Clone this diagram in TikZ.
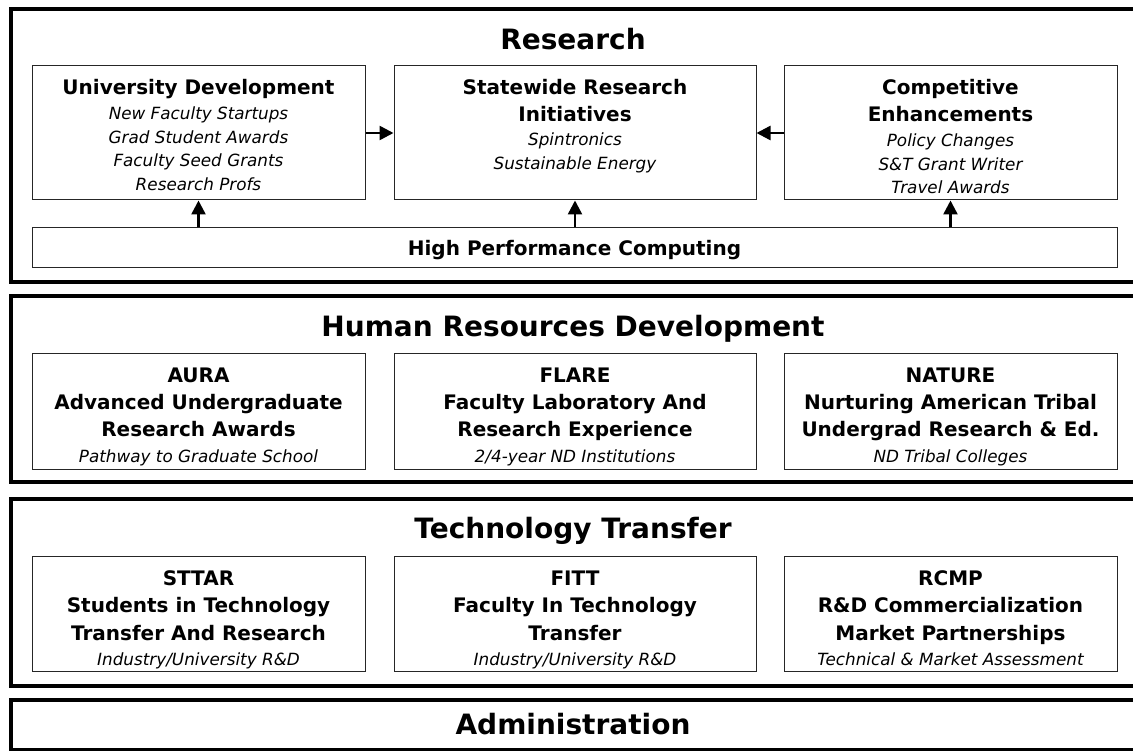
\documentclass[tikz,border=0pt]{standalone}
\usepackage{fontspec}
\setmainfont{DejaVu Sans}
\usetikzlibrary{arrows.meta}
\tikzset{
  obox/.style={draw=black, line width=4pt, minimum width=1139pt, inner sep=0pt},
  ibox/.style={draw=black!85, line width=1pt, inner sep=0pt},
  ttl/.style={font=\fontsize{28}{28}\selectfont\bfseries, anchor=base, inner sep=0pt},
  boldline/.style={font=\fontsize{20}{20}\selectfont\bfseries, anchor=base, inner sep=0pt},
  itline/.style={font=\fontsize{16.8}{16.8}\selectfont\itshape, anchor=base, inner sep=0pt},
  arr/.style={line width=2.5pt, -{Triangle[length=14pt,width=14pt]}},
}
\begin{document}
\begin{tikzpicture}[x=1pt,y=-1pt]
\clip (0,0) rectangle (1133,751);
% outer section boxes
\node[obox, minimum height=273pt] (research) at (580.5,145.5) {};
\node[obox, minimum height=186pt] (hrd) at (580.5,389) {};
\node[obox, minimum height=187pt] (tt) at (580.5,592.5) {};
\node[obox, minimum height=50pt] (admin) at (580.5,725) {};
% titles
\node[ttl] (t1) at (573,50) {Research};
\node[ttl] (t2) at (573,337) {Human Resources Development};
\node[ttl] (t3) at (573,538) {Technology Transfer};
\node[ttl] (t4) at (573,734) {Administration};
% research boxes
\node[ibox, minimum width=333pt, minimum height=134pt] (ud) at (198.5,133) {};
\node[ibox, minimum width=362pt, minimum height=134pt] (sri) at (575,133) {};
\node[ibox, minimum width=333pt, minimum height=134pt] (ce) at (950.5,133) {};
\node[ibox, minimum width=1085pt, minimum height=40pt] (hpc) at (574.5,248) {};
\node[boldline] (ud1) at (198.5,95) {University Development};
\node[itline] (ud2) at (198.5,119.5) {New Faculty Startups};
\node[itline] (ud3) at (198.5,143.3) {Grad Student Awards};
\node[itline] (ud4) at (198.5,167) {Faculty Seed Grants};
\node[itline] (ud5) at (198.5,190.7) {Research Profs};
\node[boldline] (sri1) at (575,95) {Statewide Research};
\node[boldline] (sri2) at (575,122) {Initiatives};
\node[itline] (sri3) at (575,146) {Spintronics};
\node[itline] (sri4) at (575,170) {Sustainable Energy};
\node[boldline] (ce1) at (950.5,95) {Competitive};
\node[boldline] (ce2) at (950.5,122) {Enhancements};
\node[itline] (ce3) at (950.5,146.5) {Policy Changes};
\node[itline] (ce4) at (950.5,170.5) {S\&T Grant Writer};
\node[itline] (ce5) at (950.5,194) {Travel Awards};
\node[boldline] (hpc1) at (574.5,256) {High Performance Computing};
% arrows
\draw[arr] (ud.east) -- (sri.west);
\draw[arr] (ce.west) -- (sri.east);
\draw[arr] (hpc.north -| ud.south) -- (ud.south);
\draw[arr] (hpc.north -| sri.south) -- (sri.south);
\draw[arr] (hpc.north -| ce.south) -- (ce.south);
% HRD boxes
\node[ibox, minimum width=333pt, minimum height=115pt] (aura) at (198.5,411.5) {};
\node[ibox, minimum width=362pt, minimum height=115pt] (flare) at (575,411.5) {};
\node[ibox, minimum width=333pt, minimum height=115pt] (nature) at (950.5,411.5) {};
\node[boldline] (aura1) at (198.5,382.5) {AURA};
\node[boldline] (aura2) at (198.5,409.5) {Advanced Undergraduate};
\node[boldline] (aura3) at (198.5,436.5) {Research Awards};
\node[itline] (aura4) at (198.5,462.5) {Pathway to Graduate School};
\node[boldline] (flare1) at (575,382.5) {FLARE};
\node[boldline] (flare2) at (575,409.5) {Faculty Laboratory And};
\node[boldline] (flare3) at (575,436.5) {Research Experience};
\node[itline] (flare4) at (575,462.5) {2/4-year ND Institutions};
\node[boldline] (nat1) at (950.5,382.5) {NATURE};
\node[boldline] (nat2) at (950.5,409.5) {Nurturing American Tribal};
\node[boldline] (nat3) at (950.5,436.5) {Undergrad Research \& Ed.};
\node[itline] (nat4) at (950.5,462.5) {ND Tribal Colleges};
% TT boxes
\node[ibox, minimum width=333pt, minimum height=115pt] (sttar) at (198.5,613.5) {};
\node[ibox, minimum width=362pt, minimum height=115pt] (fitt) at (575,613.5) {};
\node[ibox, minimum width=333pt, minimum height=115pt] (rcmp) at (950.5,613.5) {};
\node[boldline] (st1) at (198.5,585.5) {STTAR};
\node[boldline] (st2) at (198.5,612.7) {Students in Technology};
\node[boldline] (st3) at (198.5,640) {Transfer And Research};
\node[itline] (st4) at (198.5,665) {Industry/University R\&D};
\node[boldline] (fi1) at (575,585.5) {FITT};
\node[boldline] (fi2) at (575,612.7) {Faculty In Technology};
\node[boldline] (fi3) at (575,640) {Transfer};
\node[itline] (fi4) at (575,665) {Industry/University R\&D};
\node[boldline] (rc1) at (950.5,585.5) {RCMP};
\node[boldline] (rc2) at (950.5,612.7) {R\&D Commercialization};
\node[boldline] (rc3) at (950.5,640) {Market Partnerships};
\node[itline] (rc4) at (950.5,665) {Technical \& Market Assessment};
\end{tikzpicture}
\end{document}
